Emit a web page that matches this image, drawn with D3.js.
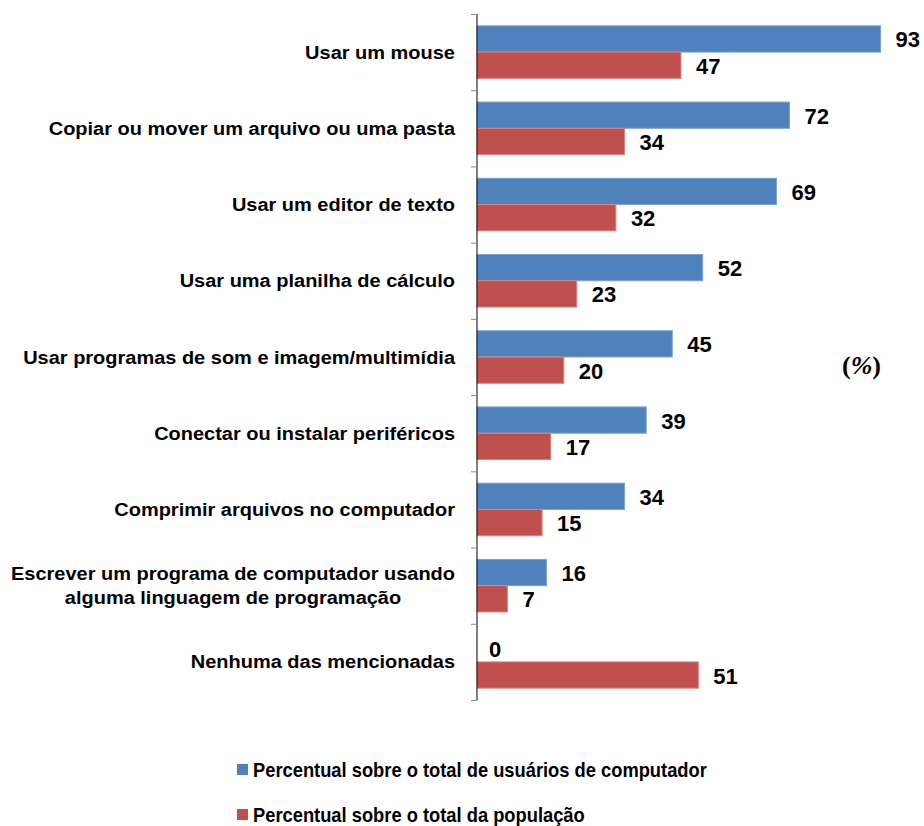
<!DOCTYPE html>
<html>
  <head>
    <title>Habilidades no computador</title>
    <script src="https://cdn.jsdelivr.net/npm/d3@7"></script>
    <style>
      body { margin: 0; background: #fff; }
      text { font-family: "Liberation Sans", Arial, sans-serif; font-weight: bold; fill: #000; }
    </style>
  </head>
  <body>
    <svg id="container" width="924" height="826"></svg>
  <script>
    const categories = [
      ["Usar um mouse"],
      ["Copiar ou mover um arquivo ou uma pasta"],
      ["Usar um editor de texto"],
      ["Usar uma planilha de cálculo"],
      ["Usar programas de som e imagem/multimídia"],
      ["Conectar ou instalar periféricos"],
      ["Comprimir arquivos no computador"],
      ["Escrever um programa de computador usando", "alguma linguagem de programação"],
      ["Nenhuma das mencionadas"]
    ];
    const usuarios = [93, 72, 69, 52, 45, 39, 34, 16, 0];
    const populacao = [47, 34, 32, 23, 20, 17, 15, 7, 51];
    const seriesNames = [
      "Percentual sobre o total de usuários de computador",
      "Percentual sobre o total da população"
    ];
    const colors = ["#4F81BD", "#C0504D"];
    const strokes = ["#7EA3D2", "#D88583"];

    const svg = d3.select("#container");
    const x0 = 477;

    const keys = categories.map((c, i) => i);
    const y = d3.scaleBand().domain(keys).range([14, 700]).paddingInner(0.31).paddingOuter(0.155);
    const inner = d3.scaleBand().domain([0, 1]).range([0, y.bandwidth()]);
    const x = d3.scaleLinear().domain([0, 100]).range([x0, x0 + 434]);

    // category labels (slightly stretched like the original rendering)
    const labels = svg.append("g");
    categories.forEach((lines, i) => {
      const cy = y(i) + y.bandwidth() / 2;
      const multi = lines.length > 1;
      const t = labels.append("text")
        .attr("transform", `translate(${multi ? 233 : 455},${cy}) scale(1.08,1)`)
        .attr("text-anchor", multi ? "middle" : "end")
        .attr("font-size", 18.5);
      lines.forEach((l, j) => {
        t.append("tspan")
          .attr("x", 0)
          .attr("y", 6.5 + (j - (lines.length - 1) / 2) * 24)
          .text(l);
      });
    });

    const series = [usuarios, populacao];
    series.forEach((vals, s) => {
      const g = svg.append("g");
      g.selectAll("rect")
        .data(vals)
        .join("rect")
        .attr("x", x(0))
        .attr("y", (d, i) => y(i) + inner(s))
        .attr("width", d => x(d) - x(0))
        .attr("height", inner.bandwidth())
        .attr("fill", colors[s])
        .attr("stroke", d => d > 0 ? strokes[s] : "none")
        .attr("stroke-width", 1);
      g.selectAll("text")
        .data(vals)
        .join("text")
        .attr("x", d => x(d) + (d > 0 ? 15 : 12))
        .attr("y", (d, i) => y(i) + inner(s) + inner.bandwidth() / 2 + 8.5)
        .attr("font-size", 22)
        .text(d => d);
    });

    // axis
    const axis = d3.axisLeft(d3.scaleLinear().domain([0, categories.length]).range([14, 700]))
      .ticks(categories.length)
      .tickSize(6)
      .tickFormat("");
    const ag = svg.append("g").attr("transform", `translate(${x0},0)`).call(axis);
    ag.select(".domain").attr("stroke", "#000").attr("d", "M0,14V700");
    ag.selectAll(".tick line").attr("stroke", "#888");

    // unit note
    const unit = svg.append("text")
      .attr("x", 842).attr("y", 374)
      .style("font-family", "'Liberation Serif', 'Times New Roman', serif")
      .attr("font-size", 26);
    unit.append("tspan").text("(");
    unit.append("tspan").style("font-style", "italic").text("%");
    unit.append("tspan").text(")");

    // legend
    const legend = svg.append("g");
    seriesNames.forEach((name, i) => {
      const ly = 770 + i * 45;
      legend.append("rect")
        .attr("x", 237).attr("y", ly - 6).attr("width", 11).attr("height", 11)
        .attr("fill", colors[i]);
      legend.append("text")
        .attr("transform", `translate(253,${ly + 7}) scale(0.94,1)`)
        .attr("font-size", 19.5)
        .text(name);
    });
  </script>
  </body>
</html>
